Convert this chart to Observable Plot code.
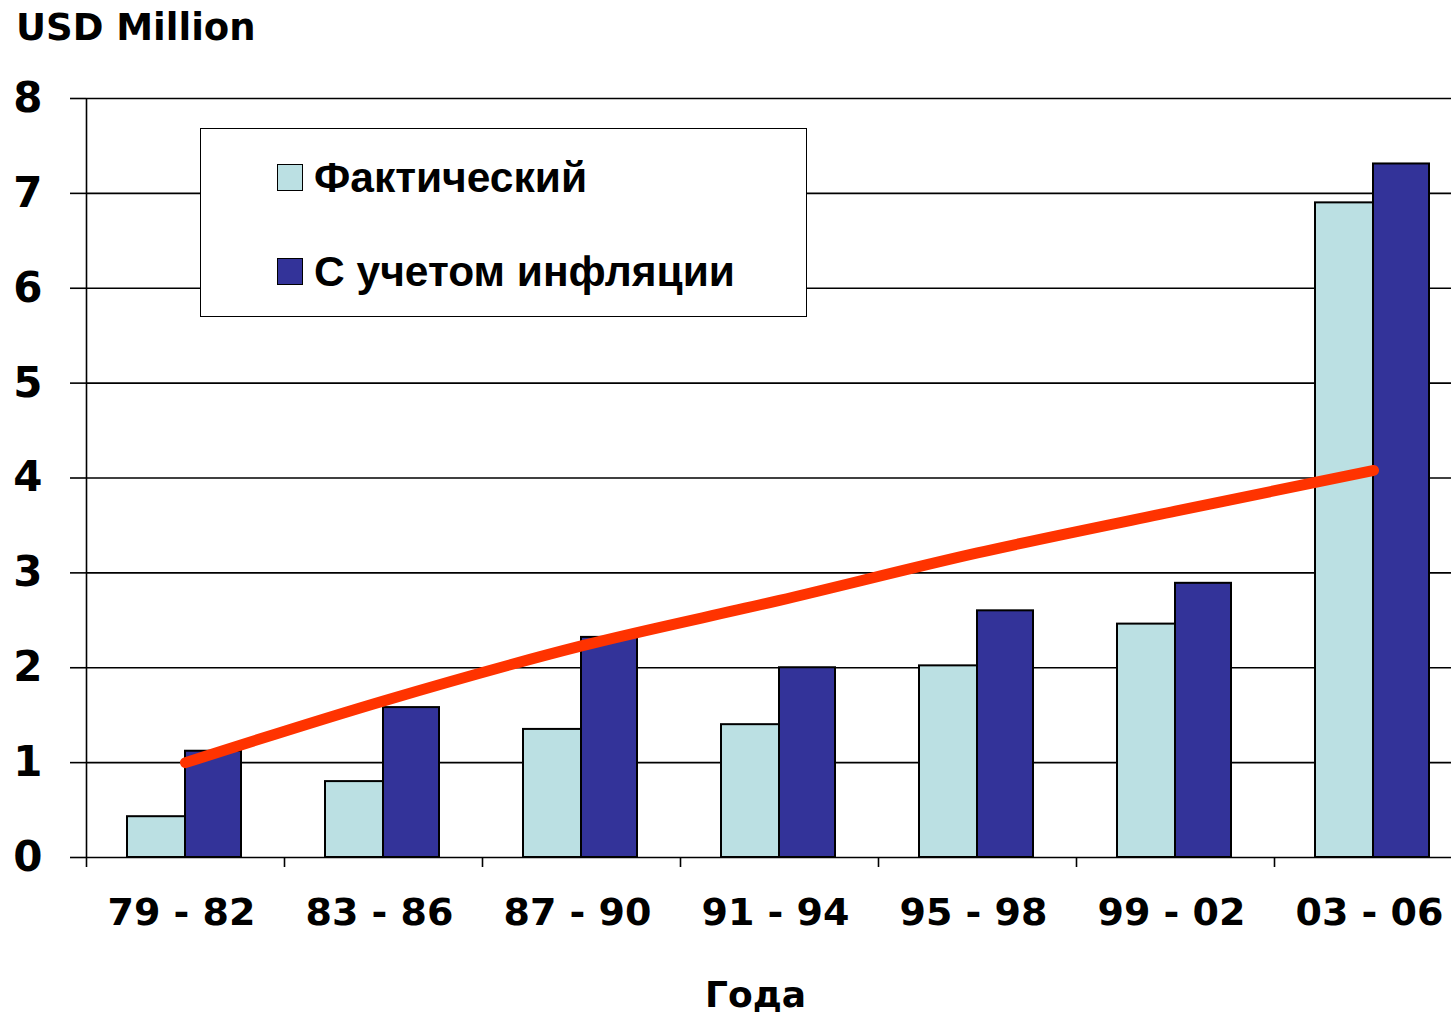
<!DOCTYPE html>
<html>
<head>
<meta charset="utf-8">
<script src="https://cdn.jsdelivr.net/npm/d3@7"></script>
<script src="https://cdn.jsdelivr.net/npm/@observablehq/plot@0.6"></script>
<style>
  html, body { margin: 0; padding: 0; background: #fff; overflow: hidden; }
  #wrap { position: relative; width: 1451px; height: 1016px; }
  .ttl { position: absolute; font-family: "DejaVu Sans", Verdana, sans-serif; font-weight: bold; color: #000; white-space: nowrap; }
  #legend { position: absolute; left: 200px; top: 128px; width: 605px; height: 187px; border: 1.5px solid #000; background: #fff; }
  .sw { position: absolute; left: 76px; width: 24px; height: 25px; border: 1.5px solid #000; }
  .lt { position: absolute; left: 113px; font-family: "Liberation Sans", Arial, sans-serif; font-weight: bold; font-size: 42.5px; line-height: 44px; white-space: nowrap; }
</style>
</head>
<body>
<div id="wrap">
  <div id="chart"></div>
  <div class="ttl" style="left:16px; top:6px; font-size:37px;">USD Million</div>
  <div class="ttl" style="left:0; width:1511px; text-align:center; top:974px; font-size:36px;">Года</div>
  <div id="legend">
    <div class="sw" style="top:35px; background:#BBE0E3;"></div>
    <div class="lt" style="top:27px;">Фактический</div>
    <div class="sw" style="top:129px; background:#333399;"></div>
    <div class="lt" style="top:121px;">С учетом инфляции</div>
  </div>
</div>
<script>
const groups = ["79 - 82", "83 - 86", "87 - 90", "91 - 94", "95 - 98", "99 - 02", "03 - 06"];
const actual = [0.43, 0.80, 1.35, 1.40, 2.02, 2.46, 6.90];
const adjusted = [1.12, 1.58, 2.32, 2.00, 2.60, 2.89, 7.31];
const trend = [1.00, 1.65, 2.23, 2.71, 3.21, 3.65, 4.08];
const yTicks = [0, 1, 2, 3, 4, 5, 6, 7, 8];

const actualData = groups.map((g, i) => ({group: g, value: actual[i]}));
const adjustedData = groups.map((g, i) => ({group: g, value: adjusted[i]}));
const trendData = groups.map((g, i) => ({group: g, value: trend[i]}));

const chart = Plot.plot({
  width: 1451,
  height: 1016,
  marginTop: 98,
  marginBottom: 159,
  marginLeft: 86,
  marginRight: 0,
  style: {fontFamily: "DejaVu Sans, Verdana, sans-serif", fontWeight: "bold", color: "#000", background: "#fff"},
  x: {type: "band", domain: groups, range: [86, 1472], padding: 0, label: null},
  y: {domain: [0, 8], range: [857, 98], label: null},
  marks: [
    Plot.ruleY(yTicks, {stroke: "#000", strokeWidth: 1.6}),
    Plot.ruleX([groups[0]], {x: d => d, y1: 8, y2: 0, dx: -99, stroke: "#000", strokeWidth: 1.6, insetBottom: -10}),
    Plot.ruleX(groups.slice(1), {x: d => d, y1: 0, y2: 0, dx: -99, stroke: "#000", strokeWidth: 1.6, insetBottom: -10}),
    Plot.barY(actualData, {x: "group", y: "value", fill: "#BBE0E3", stroke: "#000", strokeWidth: 2, insetLeft: 41, insetRight: 99}),
    Plot.barY(adjustedData, {x: "group", y: "value", fill: "#333399", stroke: "#000", strokeWidth: 2, insetLeft: 99, insetRight: 43}),
    Plot.lineY(trendData, {x: "group", y: "value", stroke: "#FF3300", strokeWidth: 11, curve: "monotone-x"}),
    Plot.axisY(yTicks, {tickSize: 16, tickPadding: 28, tickFormat: d => String(d), fontSize: 42, fontWeight: "bold", label: null, stroke: "#000", strokeWidth: 1.6}),
    Plot.axisX({tickSize: 0, tickPadding: 41, dx: -4, fontSize: 38, fontWeight: "bold", label: null})
  ]
});
document.getElementById("chart").appendChild(chart);
</script>
</body>
</html>
